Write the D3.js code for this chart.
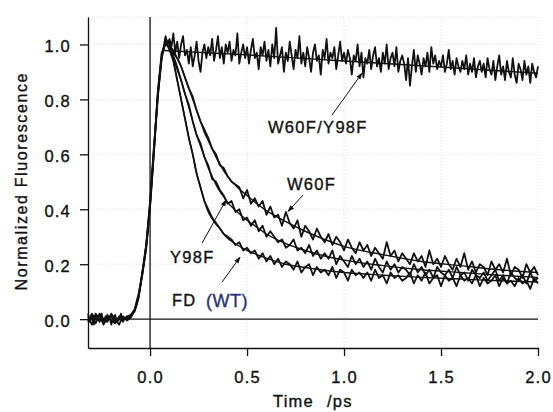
<!DOCTYPE html>
<html>
<head>
<meta charset="utf-8">
<script src="https://cdn.jsdelivr.net/npm/d3@7"></script>
<style>
  html, body { margin: 0; padding: 0; background: #fff; }
  svg { display: block; }
  text { font-family: "Liberation Sans", Arial, Helvetica, sans-serif; fill: #111; stroke: #111; stroke-width: 0.35px; }
</style>
</head>
<body>
<svg id="chart" width="553" height="412"></svg>
<script>
// ---------------- DATA ----------------
// coarse sampling (0.02 ps) used for the three fast-decaying traces
const time = [
  -0.32,-0.30,-0.28,-0.26,-0.24,-0.22,-0.20,-0.18,-0.16,-0.14,-0.12,
  -0.10,-0.08,-0.06,-0.04,-0.02,0.00,0.02,0.04,0.06,0.08,0.10,
  0.12,0.14,0.16,0.18,0.20,0.22,0.24,0.26,0.28,0.30,
  0.32,0.34,0.36,0.38,0.40,0.42,0.44,0.46,0.48,0.50,
  0.52,0.54,0.56,0.58,0.60,0.62,0.64,0.66,0.68,0.70,
  0.72,0.74,0.76,0.78,0.80,0.82,0.84,0.86,0.88,0.90,
  0.92,0.94,0.96,0.98,1.00,1.02,1.04,1.06,1.08,1.10,
  1.12,1.14,1.16,1.18,1.20,1.22,1.24,1.26,1.28,1.30,
  1.32,1.34,1.36,1.38,1.40,1.42,1.44,1.46,1.48,1.50,
  1.52,1.54,1.56,1.58,1.60,1.62,1.64,1.66,1.68,1.70,
  1.72,1.74,1.76,1.78,1.80,1.82,1.84,1.86,1.88,1.90,
  1.92,1.94,1.96,1.98,2.00
];

// fine sampling (0.01 ps) used for the W60F/Y98F trace
const timeFine = [
  -0.32,-0.31,-0.30,-0.29,-0.28,-0.27,-0.26,-0.25,-0.24,-0.23,-0.22,-0.21,
  -0.20,-0.19,-0.18,-0.17,-0.16,-0.15,-0.14,-0.13,-0.12,-0.11,
  -0.10,-0.09,-0.08,-0.07,-0.06,-0.05,-0.04,-0.03,-0.02,-0.01,
  0.00,0.01,0.02,0.03,0.04,0.05,0.06,0.07,0.08,0.09,0.10,
  0.11,0.12,0.13,0.14,0.15,0.16,0.17,0.18,0.19,0.20,
  0.21,0.22,0.23,0.24,0.25,0.26,0.27,0.28,0.29,0.30,
  0.31,0.32,0.33,0.34,0.35,0.36,0.37,0.38,0.39,0.40,
  0.41,0.42,0.43,0.44,0.45,0.46,0.47,0.48,0.49,0.50,
  0.51,0.52,0.53,0.54,0.55,0.56,0.57,0.58,0.59,0.60,
  0.61,0.62,0.63,0.64,0.65,0.66,0.67,0.68,0.69,0.70,
  0.71,0.72,0.73,0.74,0.75,0.76,0.77,0.78,0.79,0.80,
  0.81,0.82,0.83,0.84,0.85,0.86,0.87,0.88,0.89,0.90,
  0.91,0.92,0.93,0.94,0.95,0.96,0.97,0.98,0.99,1.00,
  1.01,1.02,1.03,1.04,1.05,1.06,1.07,1.08,1.09,1.10,
  1.11,1.12,1.13,1.14,1.15,1.16,1.17,1.18,1.19,1.20,
  1.21,1.22,1.23,1.24,1.25,1.26,1.27,1.28,1.29,1.30,
  1.31,1.32,1.33,1.34,1.35,1.36,1.37,1.38,1.39,1.40,
  1.41,1.42,1.43,1.44,1.45,1.46,1.47,1.48,1.49,1.50,
  1.51,1.52,1.53,1.54,1.55,1.56,1.57,1.58,1.59,1.60,
  1.61,1.62,1.63,1.64,1.65,1.66,1.67,1.68,1.69,1.70,
  1.71,1.72,1.73,1.74,1.75,1.76,1.77,1.78,1.79,1.80,
  1.81,1.82,1.83,1.84,1.85,1.86,1.87,1.88,1.89,1.90,
  1.91,1.92,1.93,1.94,1.95,1.96,1.97,1.98,1.99,2.00
];

// W60F/Y98F double mutant (on timeFine)
const seriesW60FY98F = [
  0.02,-0.01,0.01,-0.02,0.015,0.00,-0.01,0.02,-0.015,0.01,0.00,0.01,
  -0.02,0.005,0.015,-0.01,0.00,0.02,-0.01,0.005,-0.005,0.00,
  0.01,0.02,0.03,0.05,0.08,0.12,0.17,0.21,0.26,0.33,
  0.41,0.51,0.61,0.71,0.81,0.89,0.95,0.99,1.03,1.00,1.02,
  0.99,1.04,0.97,1.01,0.95,1.00,1.03,0.96,0.98,0.93,
  0.99,0.92,0.96,1.01,0.94,0.90,0.97,1.00,0.95,0.99,
  0.96,1.02,0.94,0.98,1.03,0.95,0.99,0.93,1.00,0.97,
  1.01,0.94,0.98,0.96,1.04,0.93,0.97,1.00,0.95,0.99,
  0.93,0.98,1.02,0.95,0.97,0.91,0.99,0.96,1.01,0.94,
  0.98,0.92,1.00,0.95,1.06,0.93,0.96,0.99,0.90,0.97,
  0.94,1.01,0.96,0.91,0.98,0.95,1.03,0.93,0.97,0.92,
  0.99,0.95,0.90,0.97,1.00,0.94,0.96,0.89,0.98,0.95,
  1.02,0.93,0.97,0.95,0.99,0.91,0.96,1.01,0.94,0.97,
  0.93,0.98,0.95,0.89,0.96,0.94,1.00,0.92,0.97,0.88,
  0.95,0.93,0.98,0.91,0.96,0.99,0.92,0.95,0.90,0.97,
  0.93,1.00,0.91,0.95,0.97,0.92,0.99,0.90,0.94,0.96,
  0.93,0.87,0.95,0.85,0.92,0.98,0.90,0.96,0.93,0.89,
  0.95,0.92,0.97,0.90,0.99,0.93,0.96,0.91,0.94,0.92,
  0.96,0.90,0.93,0.98,0.91,0.94,0.89,0.95,0.92,0.90,
  0.94,0.91,0.96,0.89,0.93,0.90,0.95,0.88,0.92,0.94,
  0.90,0.93,0.88,0.95,0.91,0.89,0.94,0.87,0.92,0.96,
  0.89,0.92,0.87,0.94,0.90,0.88,0.95,0.89,0.86,0.93,
  0.91,0.87,0.94,0.89,0.92,0.86,0.93,0.90,0.88,0.92
];

// W60F (on time)
const seriesW60F = [
  0.00,0.01,-0.015,0.02,0.00,-0.01,0.02,0.00,-0.02,0.01,0.00,
  0.005,0.03,0.075,0.165,0.27,0.43,0.63,0.81,0.95,1.02,1.00,
  0.97,0.95,0.92,0.88,0.84,0.81,0.76,0.72,0.69,0.66,
  0.62,0.60,0.56,0.55,0.52,0.50,0.49,0.48,0.44,0.47,
  0.42,0.44,0.41,0.43,0.38,0.41,0.37,0.38,0.34,0.39,
  0.35,0.33,0.36,0.30,0.34,0.32,0.29,0.33,0.30,0.28,
  0.31,0.27,0.30,0.28,0.25,0.29,0.26,0.24,0.28,0.25,
  0.27,0.23,0.26,0.24,0.22,0.28,0.23,0.25,0.21,0.24,
  0.22,0.20,0.24,0.21,0.23,0.19,0.25,0.20,0.22,0.19,
  0.23,0.20,0.18,0.22,0.19,0.24,0.18,0.21,0.17,0.20,
  0.19,0.16,0.21,0.18,0.20,0.17,0.22,0.16,0.19,0.18,
  0.15,0.20,0.17,0.19,0.16
];

// Y98F (on time)
const seriesY98F = [
  -0.01,0.02,0.00,0.015,-0.02,0.005,0.01,-0.01,0.00,-0.005,0.01,
  0.015,0.035,0.09,0.16,0.26,0.41,0.61,0.83,0.97,1.00,1.01,
  0.95,0.91,0.87,0.82,0.78,0.72,0.67,0.64,0.59,0.56,
  0.51,0.50,0.47,0.45,0.42,0.43,0.39,0.40,0.36,0.37,
  0.34,0.36,0.32,0.34,0.30,0.32,0.30,0.28,0.29,0.26,
  0.27,0.29,0.25,0.26,0.24,0.27,0.23,0.25,0.22,0.24,
  0.22,0.25,0.20,0.23,0.21,0.19,0.23,0.20,0.22,0.19,
  0.21,0.18,0.22,0.19,0.17,0.21,0.18,0.20,0.17,0.19,
  0.18,0.16,0.20,0.17,0.19,0.16,0.18,0.15,0.19,0.17,
  0.16,0.18,0.15,0.19,0.16,0.17,0.14,0.18,0.16,0.15,
  0.17,0.14,0.16,0.18,0.14,0.16,0.13,0.17,0.15,0.14,
  0.16,0.13,0.17,0.14,0.15
];

// FD (WT) (on time)
const seriesFD = [
  0.01,-0.02,0.02,0.00,-0.01,0.015,-0.005,-0.015,0.01,0.00,0.005,
  0.01,0.03,0.08,0.17,0.27,0.42,0.62,0.82,0.96,1.01,0.98,
  0.94,0.87,0.80,0.73,0.66,0.60,0.53,0.48,0.43,0.40,
  0.37,0.35,0.33,0.31,0.30,0.29,0.27,0.28,0.25,0.26,
  0.24,0.25,0.22,0.24,0.21,0.23,0.20,0.22,0.19,0.21,
  0.20,0.18,0.21,0.17,0.19,0.20,0.16,0.19,0.17,0.18,
  0.16,0.19,0.15,0.18,0.17,0.14,0.18,0.16,0.17,0.15,
  0.17,0.14,0.18,0.15,0.16,0.13,0.17,0.15,0.16,0.14,
  0.15,0.17,0.13,0.16,0.14,0.17,0.13,0.15,0.16,0.12,
  0.16,0.14,0.15,0.12,0.16,0.14,0.15,0.13,0.16,0.12,
  0.15,0.13,0.14,0.16,0.12,0.15,0.13,0.14,0.12,0.15,
  0.13,0.14,0.11,0.15,0.13
];

// fitted decay curves
const fitTime = [0.08,0.10,0.12,0.14,0.16,0.18,0.20,0.22,0.24,0.26,0.28,0.30,0.32,0.34,0.36,0.38,0.40,0.45,0.50,0.55,0.60,0.70,0.80,0.90,1.00,1.20,1.40,1.60,1.80,2.00];
const fitFD   = [1.00,0.99,0.94,0.87,0.80,0.73,0.66,0.60,0.53,0.48,0.43,0.39,0.365,0.345,0.33,0.31,0.295,0.27,0.25,0.235,0.222,0.20,0.188,0.178,0.17,0.16,0.152,0.146,0.14,0.135];
const fitY98F = [1.00,0.99,0.96,0.92,0.87,0.82,0.77,0.72,0.67,0.63,0.59,0.55,0.52,0.49,0.465,0.445,0.425,0.39,0.36,0.335,0.31,0.275,0.25,0.23,0.215,0.195,0.18,0.17,0.16,0.152];
const fitW60F = [1.00,0.99,0.98,0.95,0.92,0.88,0.84,0.80,0.76,0.72,0.68,0.65,0.62,0.59,0.565,0.54,0.52,0.48,0.45,0.42,0.395,0.355,0.32,0.29,0.265,0.235,0.21,0.195,0.18,0.17];
const fitDMTime = [0.07,0.50,1.00,1.50,2.00];
const fitDM     = [0.978,0.962,0.940,0.918,0.895];

const xTicks = [0.0,0.5,1.0,1.5,2.0];
const yTicks = [0.0,0.2,0.4,0.6,0.8,1.0];
const xGrid = [0.5,1.0,1.5,2.0];
const yGrid = [0.2,0.4,0.6,0.8,1.0,1.1];

// annotations (data units)
const labels = [
  {text:"W60F/Y98F", t:0.608, v:0.678, at:[0.938,0.743,1.093,0.896]},
  {text:"W60F",      t:0.706, v:0.470, at:[0.789,0.452,0.711,0.392]},
  {text:"Y98F",      t:0.103, v:0.204, at:[0.268,0.277,0.392,0.434]},
  {text:"FD",        t:0.113, v:0.048, at:[0.371,0.135,0.464,0.226]}
];

// ---------------- CHART ----------------
const svg = d3.select("#chart");
const x = d3.scaleLinear().domain([-0.32, 2.0]).range([88, 538]);
const y = d3.scaleLinear().domain([-0.105, 1.1]).range([348, 17]);

const defs = svg.append("defs");
defs.append("marker").attr("id","arr").attr("viewBox","0 0 10 10")
  .attr("refX",9).attr("refY",5).attr("markerWidth",7).attr("markerHeight",7)
  .attr("markerUnits","userSpaceOnUse").attr("orient","auto")
  .append("path").attr("d","M0,1.5 L10,5 L0,8.5 Z").attr("fill","#111");

// grid
const grid = svg.append("g").attr("stroke","#e0e0e0").attr("stroke-width",1).attr("stroke-dasharray","1,2");
grid.selectAll("line.h").data(yGrid).join("line").attr("class","h")
  .attr("x1",x(-0.32)).attr("x2",x(2.0)).attr("y1",d=>y(d)).attr("y2",d=>y(d));
grid.selectAll("line.v").data(xGrid).join("line").attr("class","v")
  .attr("x1",d=>x(d)).attr("x2",d=>x(d)).attr("y1",y(-0.105)).attr("y2",y(1.1));

// zero lines
svg.append("line").attr("x1",x(-0.32)).attr("x2",x(2.0)).attr("y1",y(0)).attr("y2",y(0))
  .attr("stroke","#111").attr("stroke-width",1.3);
svg.append("line").attr("x1",x(0)).attr("x2",x(0)).attr("y1",y(1.1)).attr("y2",y(-0.105))
  .attr("stroke","#111").attr("stroke-width",1.3);

// axes
const fontSize = "16.5px";
const yAxis = svg.append("g").attr("transform",`translate(${x(-0.32)},0)`)
  .call(d3.axisLeft(y).tickValues(yTicks).tickFormat(d3.format(".1f")).tickSize(8).tickSizeOuter(0).tickPadding(9));
const xAxis = svg.append("g").attr("transform",`translate(0,${y(-0.105)})`)
  .call(d3.axisBottom(x).tickValues(xTicks).tickFormat(d3.format(".1f")).tickSize(8).tickSizeOuter(0).tickPadding(15));
[yAxis, xAxis].forEach(g => {
  g.select(".domain").attr("stroke","#111").attr("stroke-width",1.3);
  g.selectAll(".tick line").attr("stroke","#111").attr("stroke-width",1.3);
  g.selectAll(".tick text").attr("font-size",fontSize).attr("fill","#111")
    .attr("font-family","'Liberation Sans', Arial, sans-serif").style("letter-spacing","1.2px");
});
yAxis.selectAll(".tick text").attr("dy","0.45em");

// traces
const line = d3.line().x(d=>x(d[0])).y(d=>y(d[1]));
const traces = [
  {t: timeFine, v: seriesW60FY98F},
  {t: time, v: seriesW60F},
  {t: time, v: seriesY98F},
  {t: time, v: seriesFD}
];
svg.append("g").selectAll("path").data(traces).join("path")
  .attr("d", s => line(s.t.map((t,i)=>[t, s.v[i]])))
  .attr("fill","none").attr("stroke","#111").attr("stroke-width",1.8).attr("stroke-linejoin","round");

const fitLine = d3.line().x(d=>x(d[0])).y(d=>y(d[1])).curve(d3.curveMonotoneX);
const fits = [
  fitTime.map((t,i)=>[t,fitFD[i]]),
  fitTime.map((t,i)=>[t,fitY98F[i]]),
  fitTime.map((t,i)=>[t,fitW60F[i]]),
  fitDMTime.map((t,i)=>[t,fitDM[i]])
];
svg.append("g").selectAll("path").data(fits).join("path")
  .attr("d", fitLine).attr("fill","none").attr("stroke","#111").attr("stroke-width",1.4);

// annotations
const ann = svg.append("g");
labels.forEach(l => {
  ann.append("text").attr("x",x(l.t)).attr("y",y(l.v)).attr("font-size",fontSize)
    .style("letter-spacing","1.3px").text(l.text);
  ann.append("line").attr("x1",x(l.at[0])).attr("y1",y(l.at[1])).attr("x2",x(l.at[2])).attr("y2",y(l.at[3]))
    .attr("stroke","#111").attr("stroke-width",1).attr("marker-end","url(#arr)");
});
ann.append("text").attr("x",x(0.288)).attr("y",y(0.046)).attr("font-size","18px")
  .style("fill","#26307a").style("stroke","#26307a").style("letter-spacing","0.5px").text("(WT)");

// axis titles
svg.append("text").attr("transform","translate(27,182) rotate(-90)").attr("text-anchor","middle")
  .attr("font-size","16px").attr("textLength",217).attr("lengthAdjust","spacing")
  .text("Normalized Fluorescence");
svg.append("text").attr("x",273).attr("y",407).attr("font-size",fontSize).style("letter-spacing","1.2px").text("Time");
svg.append("text").attr("x",327).attr("y",407).attr("font-size",fontSize).style("letter-spacing","1.2px").text("/ps");
</script>
</body>
</html>
